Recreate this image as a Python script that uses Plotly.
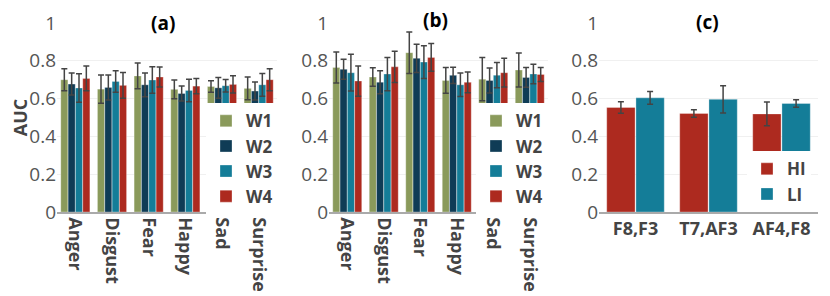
import plotly.graph_objects as go

emotions = ["Anger", "Disgust", "Fear", "Happy", "Sad", "Surprise"]
windows = ["W1", "W2", "W3", "W4"]
win_colors = ["#8a9a5b", "#0f3c56", "#147d98", "#ad2a1f"]

# Panel (a): mean AUC per window
a_W1 = [0.700, 0.650, 0.720, 0.649, 0.664, 0.654]
a_W2 = [0.677, 0.659, 0.673, 0.627, 0.657, 0.640]
a_W3 = [0.656, 0.691, 0.698, 0.643, 0.668, 0.673]
a_W4 = [0.707, 0.670, 0.714, 0.666, 0.675, 0.700]
a_E1 = [0.058, 0.075, 0.068, 0.050, 0.030, 0.060]
a_E2 = [0.058, 0.066, 0.063, 0.040, 0.055, 0.048]
a_E3 = [0.075, 0.057, 0.070, 0.060, 0.033, 0.060]
a_E4 = [0.065, 0.068, 0.053, 0.040, 0.046, 0.058]

# Panel (b)
b_W1 = [0.765, 0.714, 0.843, 0.696, 0.703, 0.751]
b_W2 = [0.755, 0.687, 0.813, 0.723, 0.696, 0.712]
b_W3 = [0.737, 0.730, 0.793, 0.673, 0.724, 0.730]
b_W4 = [0.693, 0.768, 0.818, 0.686, 0.737, 0.728]
b_E1 = [0.082, 0.049, 0.110, 0.068, 0.115, 0.090]
b_E2 = [0.053, 0.061, 0.075, 0.043, 0.066, 0.052]
b_E3 = [0.097, 0.088, 0.087, 0.062, 0.067, 0.052]
b_E4 = [0.080, 0.083, 0.073, 0.055, 0.076, 0.037]

# Panel (c)
pairs = ["F8,F3", "T7,AF3", "AF4,F8"]
c_HI = [0.553, 0.521, 0.519]
c_LI = [0.604, 0.596, 0.574]
c_HI_err = [0.030, 0.020, 0.063]
c_LI_err = [0.034, 0.072, 0.020]
c_colors = ["#ad2a1f", "#147d98"]

fig = go.Figure()

err_style = dict(type="data", color="#444444", thickness=1.5, width=3)
line_style = dict(color="rgba(255,255,255,0.6)", width=0.5)

for name, vals, errs, col in zip(windows, [a_W1, a_W2, a_W3, a_W4], [a_E1, a_E2, a_E3, a_E4], win_colors):
    fig.add_trace(go.Bar(x=emotions, y=vals, name=name, marker=dict(color=col, line=line_style),
                         error_y=dict(array=errs, **err_style), xaxis="x", yaxis="y", legend="legend"))
for name, vals, errs, col in zip(windows, [b_W1, b_W2, b_W3, b_W4], [b_E1, b_E2, b_E3, b_E4], win_colors):
    fig.add_trace(go.Bar(x=emotions, y=vals, name=name, marker=dict(color=col, line=line_style),
                         error_y=dict(array=errs, **err_style), xaxis="x2", yaxis="y2", legend="legend2"))
for name, vals, errs, col in zip(["HI", "LI"], [c_HI, c_LI], [c_HI_err, c_LI_err], c_colors):
    fig.add_trace(go.Bar(x=pairs, y=vals, name=name, marker=dict(color=col, line=line_style),
                         error_y=dict(array=errs, **err_style), xaxis="x3", yaxis="y3", legend="legend3"))

# page body has an 8px margin; work in reference pixel coords and shift
OFF = 8
W, H = 830 - OFF, 296 - OFF
L = 57 - OFF
R = W - (818 - OFF)
T = 23 - OFF
B = H - (211.7 - OFF)
PW = W - L - R
PH = H - T - B

def px(xref):
    return (xref - 57) / PW

def py(yref):
    return (211.7 - yref) / PH

def dom(a, b):
    return [px(a), px(b)]

xcommon = dict(showline=True, linecolor="#aaaaaa", linewidth=1.5, ticks="", automargin=False,
               tickfont=dict(family="Open Sans", size=18, color="#444444", weight="bold"),
               showgrid=False)
ycommon = dict(range=[0, 1], dtick=0.2, showgrid=True, gridcolor="#f0f0f0", zeroline=False,
               automargin=False,
               tickfont=dict(family="Open Sans", size=19, color="#555555"), ticks="")

legend_common = dict(bgcolor="white", borderwidth=0, xanchor="left", yanchor="bottom",
                     font=dict(family="Open Sans", size=17, color="#444444", weight="bold"),
                     tracegroupgap=0, itemwidth=30)

title_font = dict(family="Open Sans", size=19, color="black", weight="bold")

fig.update_layout(
    width=W, height=H,
    margin=dict(l=L, r=R, t=T, b=B),
    paper_bgcolor="white", plot_bgcolor="white",
    barmode="group", bargap=0.2, bargroupgap=0.03,
    font=dict(family="Open Sans", color="#444444"),
    xaxis=dict(domain=dom(57, 277), anchor="y", tickangle=90, **xcommon),
    xaxis2=dict(domain=dom(329, 548), anchor="y2", tickangle=90, **xcommon),
    xaxis3=dict(domain=dom(599, 818), anchor="y3", tickangle=0, **xcommon),
    yaxis=dict(anchor="x", title=dict(text="AUC", font=dict(family="Open Sans", size=18,
                                                            color="#444444", weight="bold")),
               **ycommon),
    yaxis2=dict(anchor="x2", **ycommon),
    yaxis3=dict(anchor="x3", **ycommon),
    legend=dict(x=px(206), y=py(214), **legend_common),
    legend2=dict(x=px(476), y=py(214), **legend_common),
    legend3=dict(x=px(747), y=py(212), **legend_common),
    annotations=[
        dict(text="(a)", x=px(163), y=py(23), xref="paper", yref="paper", showarrow=False,
             xanchor="center", yanchor="middle", font=title_font),
        dict(text="(b)", x=px(435), y=py(20), xref="paper", yref="paper", showarrow=False,
             xanchor="center", yanchor="middle", font=title_font),
        dict(text="(c)", x=px(707), y=py(22), xref="paper", yref="paper", showarrow=False,
             xanchor="center", yanchor="middle", font=title_font),
    ],
)

fig.write_html("out.html")
